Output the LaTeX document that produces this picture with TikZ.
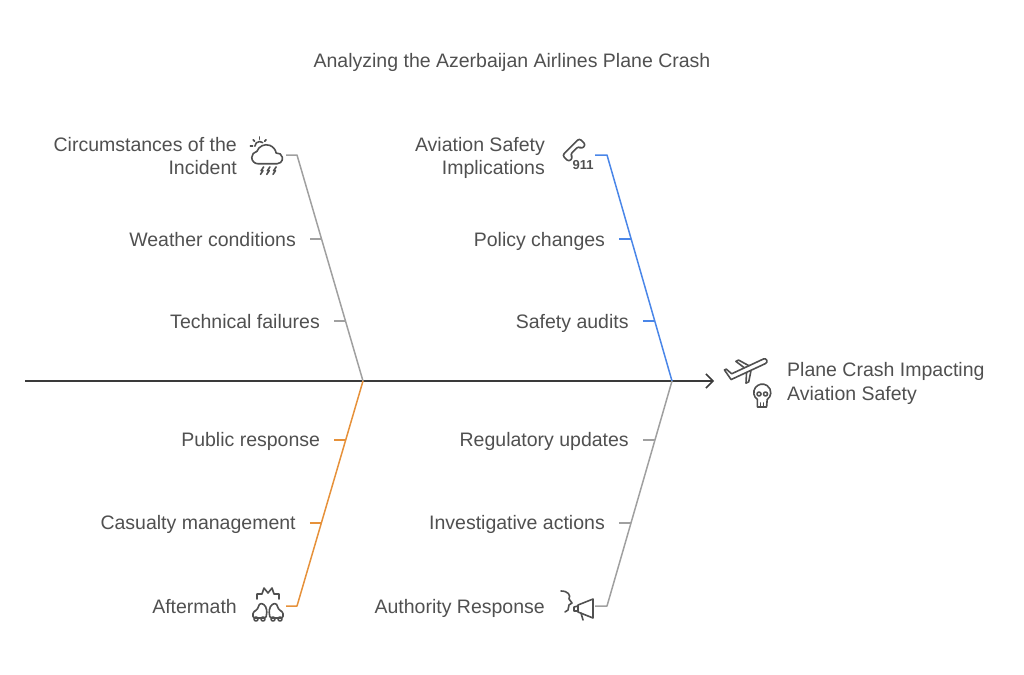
\documentclass[tikz,border=0pt]{standalone}
\usepackage{fontspec}
\setmainfont{Liberation Sans}
\usetikzlibrary{positioning,arrows.meta}
\definecolor{inkgray}{HTML}{505050}
\definecolor{spinegray}{HTML}{3A3A3A}
\definecolor{bonegray}{HTML}{A0A0A0}
\definecolor{boneblue}{HTML}{4A86E8}
\definecolor{boneorange}{HTML}{E6913A}
\begin{document}
\begin{tikzpicture}[x=1pt,y=-1pt]
\tikzstyle{every node}+=[inner sep=0pt, text=inkgray]
\tikzstyle{lbl}=[font=\fontsize{19.5}{23.5}\selectfont, text height=14pt, text depth=0pt]
\tikzstyle{head}=[font=\fontsize{19.5}{23.5}\selectfont, align=right]
\tikzstyle{bone}=[line width=1.5pt, line join=round]
\tikzstyle{tick}=[line width=1.5pt, shorten <=14pt]
\tikzstyle{icon}=[line width=1.6pt, draw=inkgray, line cap=round, line join=round, y=1pt]
\useasboundingbox (0,0) rectangle (1024,674);
\node [font=\fontsize{19.5}{22}\selectfont] (title) at (512,62) {Analyzing the Azerbaijan Airlines Plane Crash};
\coordinate (tail) at (25,381);
\coordinate (jL) at (363,381);
\coordinate (jR) at (672,381);
\coordinate (tip) at (714,381);
\draw [spinegray, line width=1.5pt, -{Straight Barb[length=7pt,width=14pt,line width=1.5pt]}] (tail) -- (tip);
\coordinate (iUL) at (268,155);
\coordinate (eUL) at (286,155);
\coordinate (bUL) at (297,155);
\draw [bone, bonegray] (eUL) -- (bUL) -- coordinate[pos=0.372] (wc) coordinate[pos=0.735] (tf) (jL);
\coordinate (iUR) at (578,155);
\coordinate (eUR) at (595,155);
\coordinate (bUR) at (607,155);
\draw [bone, boneblue] (eUR) -- (bUR) -- coordinate[pos=0.372] (pc) coordinate[pos=0.735] (sa) (jR);
\coordinate (iLL) at (268,606);
\coordinate (eLL) at (286,606);
\coordinate (bLL) at (297,606);
\draw [bone, boneorange] (jL) -- coordinate[pos=0.262] (pr) coordinate[pos=0.631] (cm) (bLL) -- (eLL);
\coordinate (iLR) at (580,606);
\coordinate (eLR) at (595,606);
\coordinate (bLR) at (607,606);
\draw [bone, bonegray] (jR) -- coordinate[pos=0.262] (ru) coordinate[pos=0.631] (ia) (bLR) -- (eLR);
\node [head, left=31pt of iUL, yshift=-1pt] (hUL) {Circumstances of the\\Incident};
\node [head, left=33pt of iUR, yshift=-3pt] (hUR) {Aviation Safety\\Implications};
\node [lbl, left=31pt of iLL] (hLL) {Aftermath};
\node [lbl, left=35pt of iLR] (hLR) {Authority Response};
\node [lbl, left=25.5pt of wc] (wcl) {Weather conditions};
\node [lbl, left=25.5pt of tf] (tfl) {Technical failures};
\node [lbl, left=26pt of pc] (pcl) {Policy changes};
\node [lbl, left=26pt of sa] (sal) {Safety audits};
\node [lbl, left=25.5pt of pr] (prl) {Public response};
\node [lbl, left=25.5pt of cm] (cml) {Casualty management};
\node [lbl, left=26pt of ru] (rul) {Regulatory updates};
\node [lbl, left=26pt of ia] (ial) {Investigative actions};
\draw [tick, bonegray] (wcl.east) -- (wc);
\draw [tick, bonegray] (tfl.east) -- (tf);
\draw [tick, boneblue] (pcl.east) -- (pc);
\draw [tick, boneblue] (sal.east) -- (sa);
\draw [tick, boneorange] (prl.east) -- (pr);
\draw [tick, boneorange] (cml.east) -- (cm);
\draw [tick, bonegray] (rul.east) -- (ru);
\draw [tick, bonegray] (ial.east) -- (ia);
\coordinate (iEff) at (750,381);
\node [font=\fontsize{19.5}{24}\selectfont, align=left, right=37pt of iEff, yshift=-2pt] (effect) {Plane Crash Impacting\\Aviation Safety};
% icons
\begin{scope}[shift={(iUL)}, icon, scale=1.25]
\draw (-10.5,7) arc (180:50:3.8);
\foreach \a in {45,90,135,180} \draw [shift={(-6.7,7)}] (\a:5.6) -- (\a:7.4);
\draw (-8,-7) arc (270:100:5) arc (160:10:8) arc (100:-90:4.32) -- cycle;
\foreach \x in {-5,0,5} \draw (\x+1.5,-9.5) -- (\x-0.5,-12.5) -- (\x+1,-12.5) -- (\x-1,-15.5);
\end{scope}
\begin{scope}[shift={(iUR)}, icon]
\draw [shift={(-5,6)}, rotate=45, rounded corners=2.5pt] (-12,-6) -- (-12,3) -- (12,3) -- (12,-6) -- (6,-6) -- (6,-2) -- (-6,-2) -- (-6,-6) -- cycle;
\node [font=\bfseries\fontsize{13}{13}\selectfont] (n911) at (5,-10) {911};
\end{scope}
\begin{scope}[shift={(iEff)}, icon]
\begin{scope}[shift={(0,13)}, rotate=25]
\draw (-17,-2.5) -- (16,-2.5) arc (-90:90:2.5) -- (-19,2.5) -- (-22,9) -- (-24,9) -- (-22,-2.5) -- cycle;
\draw (0,2.5) -- (-7,12) -- (-10,12) -- (-5,2.5);
\draw (0,-2.5) -- (-7,-12) -- (-10,-12) -- (-5,-2.5);
\end{scope}
\draw (7.41,-18.55) arc (235:-55:8.5) -- (16.59,-26) -- (7.41,-26) -- cycle;
\draw (9,-13) circle (2) (15.5,-13) circle (2);
\draw (10.5,-26) -- (10.5,-22) (13.5,-26) -- (13.5,-22);
\end{scope}
\begin{scope}[shift={(iLL)}, icon]
\draw (-11,7) -- (-11,12) -- (-6,12) -- (-4,18) -- (0,13) -- (4,18) -- (6,12) -- (11,12) -- (11,7);
\draw [rounded corners=1.5pt] (-15,-12) -- (-15,-6) -- (-11,-4) -- (-8,3) -- (-3,1) -- (-1,-5) -- (-2,-12) -- cycle;
\draw [rounded corners=1.5pt] (15,-12) -- (15,-6) -- (11,-4) -- (8,3) -- (3,1) -- (1,-5) -- (2,-12) -- cycle;
\draw (-12,-13) circle (2) (-5,-13) circle (2) (12,-13) circle (2) (5,-13) circle (2);
\end{scope}
\begin{scope}[shift={(iLR)}, icon]
\draw (-19,15) .. controls (-12,15) and (-9,11) .. (-11,7) -- (-8,3) -- (-11,1) -- (-12,-4) -- (-15,-6);
\draw (-2,1) -- (13,7) -- (13,-12) -- (-2,-6) -- cycle;
\draw (-2,0) -- (-6,-1) -- (-6,-5) -- (-2,-5);
\draw (1,-7) -- (3,-14);
\end{scope}
\end{tikzpicture}
\end{document}
